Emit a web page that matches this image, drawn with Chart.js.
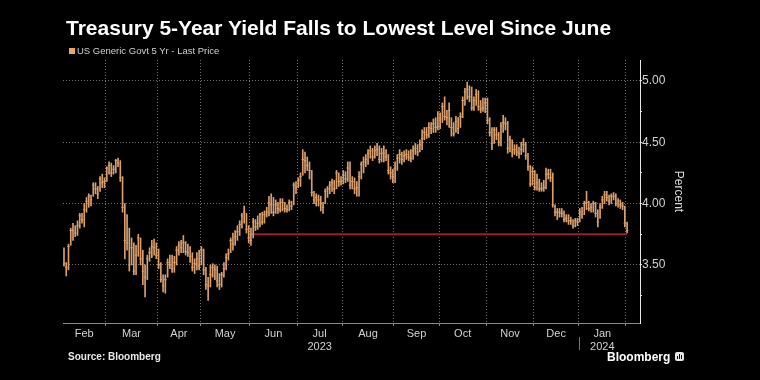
<!DOCTYPE html>
<html>
<head>
<meta charset="utf-8">
<script src="https://cdn.jsdelivr.net/npm/chart.js@4.4.1/dist/chart.umd.min.js"></script>
<style>
  html, body { margin: 0; padding: 0; background: #000; }
  #wrap { position: relative; width: 760px; height: 380px; background: #000; overflow: hidden; font-family: "Liberation Sans", Arial, sans-serif; }
  #c { position: absolute; left: 0; top: 0; }
  .title { position: absolute; left: 66px; top: 17px; font-size: 21px; line-height: 21px; font-weight: bold; color: #fff; white-space: nowrap; }
  .legend { position: absolute; left: 69px; top: 46px; font-size: 9.5px; line-height: 10px; color: #cfcfcf; white-space: nowrap; }
  .legend .sw { display: inline-block; width: 6px; height: 6px; background: #f2a65a; margin-right: 2px; vertical-align: 0px; }
  .source { position: absolute; left: 68px; top: 352px; font-size: 10px; line-height: 10px; font-weight: bold; color: #e8e8e8; white-space: nowrap; }
  .brand { position: absolute; left: 607px; top: 351px; font-size: 12px; line-height: 12px; font-weight: bold; color: #fff; white-space: nowrap; }
  .icon { position: absolute; left: 675px; top: 352px; width: 9px; height: 9px; background: #e6e6e6; border-radius: 2px; }
  .icon i { position: absolute; bottom: 2px; width: 1px; background: #000; }
</style>
</head>
<body>
<div id="wrap">
  <canvas id="c" width="760" height="380"></canvas>
  <div class="title">Treasury 5-Year Yield Falls to Lowest Level Since June</div>
  <div class="legend"><span class="sw"></span>US Generic Govt 5 Yr - Last Price</div>
  <div class="source">Source: Bloomberg</div>
  <div class="brand">Bloomberg</div>
  <div class="icon"><i style="left:2px;height:3px"></i><i style="left:4px;height:5px"></i><i style="left:6px;height:4px"></i></div>
</div>
<script>
// ---- Data (daily trading sessions, Feb 1 2023 - Feb 1 2024) ----
const monthLabels = [['Feb'], ['Mar'], ['Apr'], ['May'], ['Jun'], ['Jul', '2023'], ['Aug'], ['Sep'], ['Oct'], ['Nov'], ['Dec'], ['Jan', '2024'], ['']];
const tradingDays = [19, 23, 19, 22, 21, 20, 23, 20, 21, 21, 20, 21, 1];

const high = [
  3.64,3.52,3.67,3.80,3.84,3.82,3.86,3.92,3.92,4.00,4.05,4.08,4.07,4.17,4.17,4.14,4.22,4.24,4.21,
  4.30,4.34,4.33,4.31,4.36,4.37,4.35,4.22,4.00,3.91,3.80,3.72,3.68,3.66,3.75,3.72,3.62,3.50,3.58,3.64,3.70,3.71,3.68,
  3.63,3.52,3.42,3.42,3.55,3.58,3.58,3.57,3.65,3.69,3.70,3.74,3.69,3.67,3.65,3.60,3.55,3.60,3.62,
  3.65,3.63,3.48,3.40,3.50,3.51,3.50,3.49,3.43,3.44,3.52,3.59,3.63,3.72,3.76,3.78,3.82,3.86,3.92,3.98,3.92,3.82,
  3.80,3.88,3.87,3.90,3.92,3.93,3.94,3.97,4.06,4.08,4.05,4.03,4.01,4.04,4.04,4.01,3.99,4.03,4.02,4.17,4.18,
  4.21,4.25,4.44,4.42,4.38,4.34,4.27,4.10,4.08,4.07,4.06,4.01,4.12,4.14,4.18,4.20,4.19,4.27,4.25,4.22,
  4.27,4.26,4.34,4.34,4.22,4.21,4.18,4.26,4.34,4.38,4.40,4.44,4.47,4.45,4.47,4.49,4.47,4.45,4.47,4.44,4.40,4.30,4.28,
  4.34,4.40,4.44,4.42,4.43,4.44,4.43,4.44,4.47,4.49,4.48,4.52,4.60,4.62,4.62,4.66,4.66,4.69,4.70,4.75,
  4.74,4.82,4.87,4.76,4.82,4.70,4.66,4.71,4.70,4.74,4.87,4.94,4.99,4.96,4.95,4.87,4.93,4.92,4.84,4.86,4.86,
  4.86,4.70,4.62,4.62,4.62,4.58,4.66,4.72,4.70,4.67,4.55,4.52,4.48,4.48,4.46,4.50,4.53,4.50,4.41,4.31,4.30,
  4.27,4.24,4.20,4.17,4.19,4.29,4.28,4.28,4.25,3.99,3.96,3.96,3.96,3.94,3.91,3.91,3.89,3.87,3.88,3.88,
  3.96,3.97,4.02,4.10,4.02,4.00,4.02,4.01,3.95,4.00,4.06,4.10,4.10,4.07,4.08,4.09,4.08,4.04,4.03,4.01,3.98,
  3.85
];
const low = [
  3.49,3.41,3.46,3.66,3.70,3.73,3.74,3.80,3.84,3.81,3.93,3.97,3.98,4.06,4.08,4.04,4.10,4.13,4.13,
  4.18,4.24,4.22,4.24,4.25,4.30,4.18,3.93,3.55,3.62,3.45,3.50,3.42,3.42,3.57,3.50,3.34,3.24,3.38,3.53,3.56,3.58,3.55,
  3.47,3.36,3.28,3.27,3.40,3.47,3.44,3.44,3.50,3.58,3.60,3.60,3.58,3.57,3.52,3.45,3.43,3.46,3.46,
  3.50,3.42,3.30,3.21,3.32,3.40,3.38,3.32,3.30,3.32,3.40,3.46,3.54,3.60,3.62,3.66,3.70,3.74,3.80,3.84,3.76,3.68,
  3.66,3.72,3.78,3.79,3.81,3.83,3.84,3.89,3.90,3.92,3.90,3.92,3.92,3.93,3.94,3.93,3.93,3.94,3.95,3.99,4.08,
  4.13,4.14,4.23,4.25,4.27,4.20,4.06,4.00,3.98,3.98,3.94,3.92,4.00,4.05,4.08,4.10,4.08,4.12,4.14,4.15,
  4.16,4.17,4.18,4.12,4.12,4.08,4.06,4.06,4.20,4.25,4.30,4.32,4.37,4.35,4.37,4.39,4.33,4.34,4.34,4.35,4.24,4.20,4.17,
  4.17,4.27,4.33,4.32,4.34,4.36,4.35,4.34,4.36,4.40,4.39,4.42,4.44,4.52,4.53,4.54,4.57,4.58,4.58,4.60,
  4.61,4.66,4.68,4.64,4.62,4.55,4.55,4.58,4.57,4.62,4.70,4.80,4.85,4.83,4.76,4.76,4.80,4.76,4.74,4.75,4.74,
  4.65,4.55,4.44,4.49,4.52,4.47,4.47,4.58,4.60,4.41,4.42,4.38,4.40,4.39,4.37,4.40,4.42,4.36,4.27,4.14,4.15,
  4.11,4.11,4.10,4.10,4.10,4.12,4.20,4.18,3.97,3.90,3.87,3.89,3.89,3.85,3.85,3.83,3.83,3.80,3.81,3.82,
  3.85,3.88,3.91,3.95,3.94,3.93,3.93,3.89,3.81,3.88,3.96,4.00,4.02,3.99,4.00,4.03,3.98,3.97,3.96,3.95,3.81,
  3.76
];
const close = [
  3.51,3.48,3.65,3.78,3.78,3.76,3.82,3.90,3.87,3.95,4.02,4.06,4.03,4.15,4.12,4.08,4.20,4.17,4.18,
  4.29,4.31,4.25,4.28,4.35,4.33,4.21,3.97,3.70,3.68,3.50,3.64,3.45,3.58,3.72,3.55,3.45,3.40,3.55,3.60,3.65,3.64,3.58,
  3.50,3.38,3.33,3.38,3.52,3.50,3.47,3.52,3.62,3.66,3.64,3.68,3.61,3.60,3.57,3.48,3.51,3.55,3.49,
  3.62,3.46,3.34,3.33,3.42,3.48,3.46,3.37,3.34,3.42,3.47,3.56,3.59,3.70,3.67,3.73,3.77,3.83,3.90,3.93,3.79,3.72,
  3.70,3.85,3.81,3.84,3.91,3.85,3.91,3.93,4.01,3.99,3.93,3.99,3.96,3.95,4.01,3.96,3.95,4.01,3.98,4.15,4.13,
  4.19,4.22,4.36,4.35,4.31,4.27,4.09,4.03,4.05,4.03,4.00,3.97,4.10,4.12,4.15,4.17,4.12,4.25,4.18,4.18,
  4.23,4.20,4.29,4.15,4.18,4.12,4.13,4.22,4.32,4.34,4.36,4.41,4.43,4.38,4.43,4.44,4.36,4.41,4.41,4.38,4.27,4.25,4.22,
  4.29,4.37,4.40,4.36,4.39,4.40,4.38,4.37,4.43,4.45,4.42,4.48,4.53,4.58,4.56,4.62,4.61,4.65,4.62,4.63,
  4.69,4.79,4.71,4.70,4.76,4.62,4.57,4.67,4.61,4.71,4.84,4.91,4.93,4.87,4.78,4.84,4.89,4.79,4.77,4.78,4.82,
  4.68,4.58,4.49,4.60,4.56,4.50,4.63,4.66,4.65,4.45,4.52,4.42,4.44,4.42,4.41,4.44,4.48,4.39,4.30,4.16,4.26,
  4.13,4.17,4.12,4.12,4.13,4.24,4.24,4.21,3.99,3.93,3.93,3.93,3.92,3.87,3.88,3.86,3.86,3.82,3.86,3.85,
  3.93,3.91,4.00,4.01,3.96,3.97,4.00,3.92,3.85,3.97,4.03,4.07,4.05,4.02,4.06,4.06,4.00,4.02,3.99,3.98,3.84,
  3.78
];
const yTickValues = [3.25, 3.50, 3.75, 4.00, 4.25, 4.50, 4.75, 5.00];
const refLevel = 3.75;        // "lowest level since June"
const refStartMonth = 4;      // Jun (index into monthLabels)

// ---- sanity ----
const totalDays = tradingDays.reduce((a, b) => a + b, 0);
if (high.length !== totalDays || low.length !== totalDays || close.length !== totalDays) {
  throw new Error('length mismatch ' + totalDays + ' ' + high.length + ' ' + low.length + ' ' + close.length);
}

// ---- derived structures for the library ----
const monthStart = [];
tradingDays.reduce((acc, n, k) => { monthStart[k] = acc; return acc + n; }, 0);
const xTickDefs = [];
for (let m = 0; m < monthLabels.length; m++) {
  if (m > 0) xTickDefs.push({ value: monthStart[m] - 0.5, label: '', kind: 'b' });
  if (m < monthLabels.length - 1) {
    const s = monthStart[m] - 0.5, e = monthStart[m + 1] - 0.5;
    xTickDefs.push({ value: (s + e) / 2, label: monthLabels[m], kind: 'c' });
  }
}
xTickDefs.sort((a, b) => a.value - b.value);
const yearBoundary = monthStart[11] - 0.5;

const barColor = '#d9a06e';
const hlData = high.map((h, i) => ({ x: i, y: [low[i], h] }));
const closeData = close.map((c, i) => ({ x: i, y: c }));
const refData = [{ x: monthStart[refStartMonth], y: refLevel }, { x: totalDays - 1, y: refLevel }];

const gridCol = 'rgba(150,150,150,0.75)';

const yearSep = {
  id: 'yearSep',
  afterDraw(chart) {
    const xs = chart.scales.x;
    const px = Math.round(xs.getPixelForValue(yearBoundary)) + 0.5;
    const c = chart.ctx;
    c.save();
    c.strokeStyle = '#777';
    c.lineWidth = 1;
    c.beginPath();
    c.moveTo(px, xs.top + 14);
    c.lineTo(px, xs.top + 27);
    c.stroke();
    c.restore();
  }
};

new Chart(document.getElementById('c'), {
  data: {
    datasets: [
      { type: 'line', data: refData, borderColor: '#9c1d31', borderWidth: 2, pointRadius: 0, order: 3 },
      { type: 'bar', data: hlData, backgroundColor: barColor, borderWidth: 0, barThickness: 1, grouped: false, order: 2 },
      { type: 'scatter', data: closeData, pointStyle: 'line', pointRadius: 1.2, borderColor: barColor, borderWidth: 1, order: 1 }
    ]
  },
  options: {
    responsive: false,
    animation: false,
    layout: { padding: { top: 60, left: 63, right: 74, bottom: 0 } },
    plugins: { legend: { display: false }, tooltip: { enabled: false } },
    scales: {
      x: {
        type: 'linear',
        offset: false,
        min: -0.44,
        max: 255.73,
        afterBuildTicks(scale) { scale.ticks = xTickDefs.map(t => ({ value: t.value })); },
        afterFit(scale) { scale.height = 57; },
        ticks: {
          autoSkip: false, maxRotation: 0, minRotation: 0, padding: 1,
          color: '#d2d2d2', font: { family: 'Liberation Sans', size: 11 },
          callback: (v, i) => xTickDefs[i] ? xTickDefs[i].label : ''
        },
        grid: {
          offset: false,
          drawTicks: true, tickLength: 3,
          color: ctx => (xTickDefs[ctx.index] && xTickDefs[ctx.index].kind === 'b') ? gridCol : 'rgba(0,0,0,0)',
          tickColor: ctx => (xTickDefs[ctx.index] && xTickDefs[ctx.index].kind === 'b') ? '#888' : 'rgba(0,0,0,0)',
          lineWidth: 1
        },
        border: { display: true, color: '#8a8a8a', width: 1, dash: [1, 2] }
      },
      y: {
        type: 'linear',
        position: 'right',
        min: 3.027,
        max: 5.17,
        afterBuildTicks(scale) { scale.ticks = yTickValues.map(v => ({ value: v })); },
        afterFit(scale) { scale.width = 46; },
        ticks: {
          padding: 0, color: '#d2d2d2', font: { family: 'Liberation Sans', size: 12 },
          callback: v => (Math.abs(v * 2 - Math.round(v * 2)) < 1e-6) ? v.toFixed(2) : ''
        },
        grid: {
          drawTicks: true, tickLength: 2,
          color: ctx => (ctx.tick && Math.abs(ctx.tick.value * 2 - Math.round(ctx.tick.value * 2)) < 1e-6) ? gridCol : 'rgba(0,0,0,0)',
          tickColor: '#e0e0e0'
        },
        border: { display: true, color: '#e6e6e6', width: 1, dash: [1, 2] },
        title: { display: true, text: 'Percent', color: '#d8d8d8', font: { family: 'Liberation Sans', size: 12 }, padding: 0 }
      }
    }
  },
  plugins: [yearSep]
});
</script>
</body>
</html>
